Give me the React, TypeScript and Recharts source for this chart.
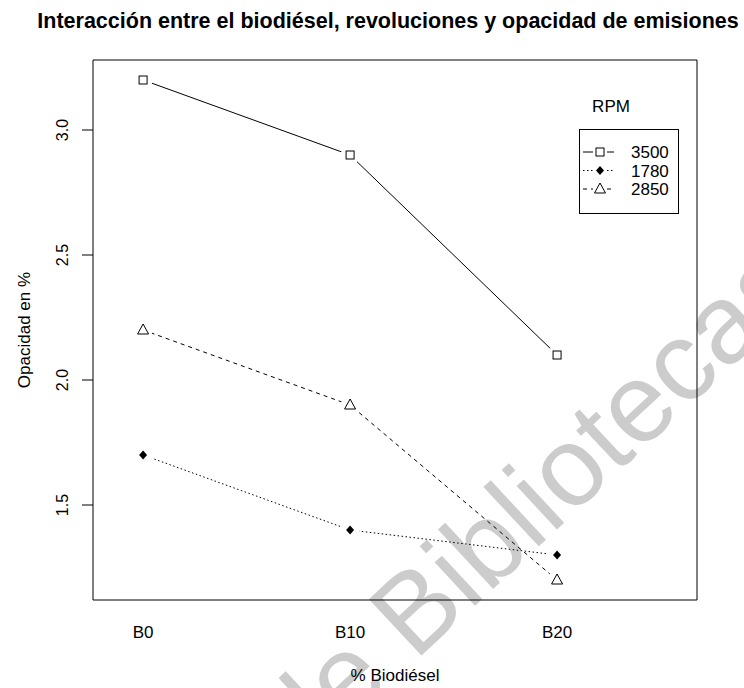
import React from "react";
import { LineChart, Line, XAxis, YAxis, ReferenceArea, Legend } from "recharts";

// biodiesel blends on the x axis
const categories = ["B0", "B10", "B20"];
// opacity (%) per RPM level
const rpm3500 = [3.2, 2.9, 2.1];
const rpm1780 = [1.7, 1.4, 1.3];
const rpm2850 = [2.2, 1.9, 1.2];
const yTicks = [1.5, 2.0, 2.5, 3.0];
const legendTitle = "RPM";

const FONT = "'Liberation Sans', Arial, Helvetica, sans-serif";
const xDomain = [0.758, 3.676];
const yDomain = [1.12, 3.28];

const rows = categories.map((c, i) => ({
  x: i + 1,
  cat: c,
  r3500: rpm3500[i],
  r1780: rpm1780[i],
  r2850: rpm2850[i],
}));

const Marker = ({ kind, cx, cy }: { kind: string; cx: number; cy: number }) => {
  if (kind === "square")
    return <rect x={cx - 4} y={cy - 4} width={8} height={8} fill="#fff" stroke="#000" strokeWidth={1} />;
  if (kind === "diamond")
    return <polygon points={`${cx},${cy - 4.5} ${cx + 4},${cy} ${cx},${cy + 4.5} ${cx - 4},${cy}`} fill="#000" />;
  return <polygon points={`${cx},${cy - 6} ${cx + 5.5},${cy + 4} ${cx - 5.5},${cy + 4}`} fill="#fff" stroke="#000" strokeWidth={1} />;
};

// type="b" look: blank out the line around each point
const makeDot = (kind: string) => (p: any) => {
  const { cx, cy, index } = p;
  if (cx == null || cy == null) return <g key={index} />;
  return (
    <g key={`${kind}-${index}`}>
      <circle cx={cx} cy={cy} r={9.5} fill="#fff" />
      <Marker kind={kind} cx={cx} cy={cy} />
    </g>
  );
};

const series = [
  { key: "r3500", name: "3500", kind: "square", dash: undefined },
  { key: "r1780", name: "1780", kind: "diamond", dash: "1.5 2.5" },
  { key: "r2850", name: "2850", kind: "triangle", dash: "4 4" },
];

const XTick = (p: any) => (
  <text x={p.x} y={p.y + 38} textAnchor="middle" fontSize={17} fontFamily={FONT} fill="#000">
    {categories[p.payload.value - 1]}
  </text>
);

const YTick = (p: any) => (
  <text
    x={p.x}
    y={p.y}
    transform={`rotate(-90, ${p.x}, ${p.y})`}
    textAnchor="middle"
    fontSize={16}
    fontFamily={FONT}
    fill="#000"
  >
    {Number(p.payload.value).toFixed(1)}
  </text>
);

const LegendBox = () => (
  <svg width={744} height={230} style={{ display: "block" }}>
    <text x={611} y={112} textAnchor="middle" fontSize={17} fontFamily={FONT} fill="#000">
      {legendTitle}
    </text>
    <rect x={579.5} y={129.5} width={99} height={84} fill="#fff" stroke="#000" strokeWidth={1} />
    {series.map((s, i) => {
      const y = 152 + i * 18.5;
      return (
        <g key={s.key}>
          <line x1={583} y1={y} x2={593} y2={y} stroke="#000" strokeDasharray={s.dash} />
          <line x1={607} y1={y} x2={614} y2={y} stroke="#000" strokeDasharray={s.dash} />
          <Marker kind={s.kind} cx={600} cy={y} />
          <text x={631} y={y + 6} fontSize={17} fontFamily={FONT} fill="#000">
            {s.name}
          </text>
        </g>
      );
    })}
  </svg>
);

export default function App() {
  return (
    <div
      style={{
        position: "absolute",
        left: 0,
        top: 0,
        width: 744,
        height: 688,
        background: "#fff",
        overflow: "hidden",
        fontFamily: FONT,
      }}
    >
      <svg width={744} height={688} style={{ position: "absolute", left: 0, top: 0 }}>
        <text
          x={301}
          y={768}
          transform="rotate(-43, 301, 768)"
          fontSize={112}
          fontFamily={FONT}
          fill="#cccccc"
        >
          de Bibliotecas
        </text>
        <text x={388} y={28} textAnchor="middle" fontSize={21.5} fontWeight="bold" fontFamily={FONT} fill="#000">
          Interacción entre el biodiésel, revoluciones y opacidad de emisiones
        </text>
      </svg>
      <div style={{ position: "absolute", left: 0, top: 0 }}>
        <LineChart width={744} height={688} data={rows} margin={{ top: 60, right: 47, bottom: 38, left: 33 }}>
          <XAxis
            dataKey="x"
            type="number"
            domain={xDomain}
            allowDataOverflow
            ticks={[1, 2, 3]}
            axisLine={false}
            tickLine={false}
            tickSize={0}
            tickMargin={0}
            height={50}
            tick={XTick}
            label={(p: any) => (
              <text x={395} y={681} textAnchor="middle" fontSize={17} fontFamily={FONT} fill="#000">
                % Biodiésel
              </text>
            )}
          />
          <YAxis
            type="number"
            domain={yDomain}
            allowDataOverflow
            ticks={yTicks}
            axisLine={false}
            tickLine={{ stroke: "#000" }}
            tickSize={11}
            tickMargin={14}
            width={60}
            tick={YTick}
            label={(p: any) => (
              <text
                x={30}
                y={330}
                transform="rotate(-90, 30, 330)"
                textAnchor="middle"
                fontSize={17}
                fontFamily={FONT}
                fill="#000"
              >
                Opacidad en %
              </text>
            )}
          />
          <ReferenceArea
            x1={xDomain[0]}
            x2={xDomain[1]}
            y1={yDomain[0]}
            y2={yDomain[1]}
            fill="none"
            stroke="#000"
            strokeWidth={1}
            ifOverflow="visible"
          />
          {series.map((s) => (
            <Line
              key={s.key}
              dataKey={s.key}
              name={s.name}
              stroke="#000"
              strokeWidth={1}
              strokeDasharray={s.dash}
              dot={makeDot(s.kind)}
              activeDot={false}
              isAnimationActive={false}
            />
          ))}
          <Legend
            layout="horizontal"
            verticalAlign="middle"
            align="center"
            content={LegendBox}
            wrapperStyle={{ position: "absolute", left: 0, top: 0, width: 744, height: 230 }}
          />
        </LineChart>
      </div>
    </div>
  );
}
